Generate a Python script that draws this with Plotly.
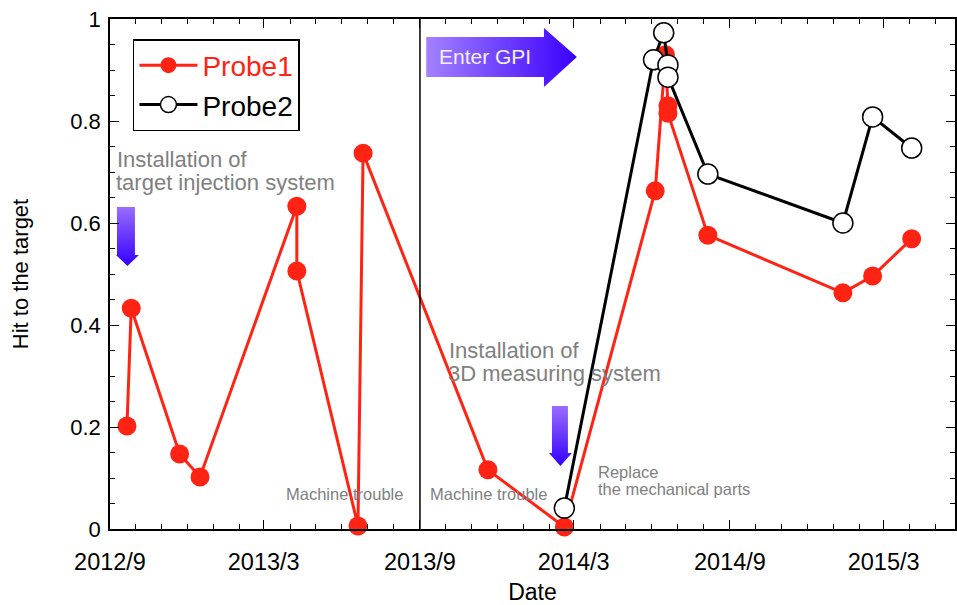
import plotly.graph_objects as go

# ---- data -------------------------------------------------------------
probe1_dates = ["2012-09-21", "2012-09-26", "2012-11-22", "2012-12-16",
                "2013-04-09", "2013-04-09", "2013-06-20", "2013-06-26",
                "2013-11-20", "2014-02-18", "2014-06-05", "2014-06-17",
                "2014-06-20", "2014-06-20", "2014-08-06", "2015-01-12",
                "2015-02-16", "2015-04-03"]
probe1_hits = [0.202, 0.433, 0.147, 0.102, 0.633, 0.506, 0.006, 0.737,
               0.116, 0.004, 0.663, 0.93, 0.83, 0.815, 0.576, 0.463,
               0.496, 0.569]

probe2_dates = ["2014-02-18", "2014-06-03", "2014-06-15", "2014-06-20",
                "2014-06-20", "2014-08-06", "2015-01-12", "2015-02-16",
                "2015-04-03"]
probe2_hits = [0.041, 0.92, 0.973, 0.91, 0.886, 0.696, 0.6, 0.808, 0.747]

x_tick_vals = ["2012-09-01", "2013-03-01", "2013-09-01", "2014-03-01",
               "2014-09-01", "2015-03-01"]
x_tick_text = ["2012/9", "2013/3", "2013/9", "2014/3", "2014/9", "2015/3"]
y_tick_vals = [0, 0.2, 0.4, 0.6, 0.8, 1]
y_tick_text = ["0", "0.2", "0.4", "0.6", "0.8", "1"]

gpi_start = "2013-09-01"

# ---- layout geometry --------------------------------------------------
W, H = 957, 605
ML, MR, MT, MB = 110, 0, 19, 76
PW, PH = W - ML - MR, H - MT - MB


def fx(px):
    return (px - ML) / PW


def fy(py):
    return (H - MB - py) / PH


FONT = "Liberation Sans, Arial, Helvetica, sans-serif"
RED = "#ff2314"
GRAY = "#808080"

fig = go.Figure()

fig.add_trace(go.Scatter(
    x=probe1_dates, y=probe1_hits, mode="lines+markers",
    name="<span style='color:%s'>Probe1</span>" % RED,
    line=dict(color=RED, width=3),
    marker=dict(color=RED, size=19, line=dict(width=0)),
    cliponaxis=False,
))
fig.add_trace(go.Scatter(
    x=probe2_dates, y=probe2_hits, mode="lines+markers",
    name="Probe2",
    line=dict(color="black", width=3),
    marker=dict(color="white", size=20, line=dict(color="black", width=1.5)),
    cliponaxis=False,
))


# gradient arrows drawn on a hidden 0..1 overlay of the plot area
def arrow(points, direction, colors):
    xs = [fx(p[0]) for p in points] + [fx(points[0][0])]
    ys = [fy(p[1]) for p in points] + [fy(points[0][1])]
    fig.add_trace(go.Scatter(
        x=xs, y=ys, xaxis="x2", yaxis="y2", mode="lines", fill="toself",
        line=dict(width=0, color="rgba(0,0,0,0)"),
        fillgradient=dict(type=direction,
                          colorscale=[[0, colors[0]], [1, colors[1]]]),
        showlegend=False, hoverinfo="skip",
    ))


arrow([(427, 37), (545, 37), (545, 28), (578, 57), (545, 87), (545, 77),
       (427, 77)], "horizontal", ("#a381ff", "#3a00ff"))
arrow([(117, 207), (135, 207), (135, 255), (139, 255), (127.5, 266),
       (116, 255), (117, 255)], "vertical", ("#3300ff", "#9a6cff"))
arrow([(553, 406), (569, 406), (569, 453), (573, 453), (561.5, 466),
       (550, 453), (553, 453)], "vertical", ("#3300ff", "#9a6cff"))


def note(text, px, py, size, color=GRAY, anchor="left"):
    fig.add_annotation(x=fx(px), y=fy(py), xref="paper", yref="paper",
                       text=text, showarrow=False, xanchor=anchor,
                       yanchor="middle",
                       font=dict(family=FONT, size=size, color=color))


note("Enter GPI", 438, 57, 21, color="#f4f0ff")
note("Installation of", 115, 159, 22)
note("target injection system", 114, 182, 22)
note("Installation of", 448, 350, 22)
note("3D measuring system", 447, 373, 22)
note("Machine trouble", 284, 494, 16.5)
note("Machine trouble", 429, 494, 16.5)
note("Replace", 597, 472, 16.5)
note("the mechanical parts", 597, 489, 16.5)

fig.add_shape(type="line", xref="x", yref="paper", x0=gpi_start, x1=gpi_start,
              y0=0, y1=1, line=dict(color="black", width=1.5))

fig.update_layout(
    width=W, height=H,
    margin=dict(l=ML, r=MR, t=MT, b=MB, pad=0),
    paper_bgcolor="white", plot_bgcolor="white",
    font=dict(family=FONT, size=22, color="black"),
    showlegend=True,
    legend=dict(x=fx(133), y=fy(39), xanchor="left", yanchor="top",
                bgcolor="white", bordercolor="black", borderwidth=1.5,
                font=dict(family=FONT, size=28, color="black"),
                itemwidth=58, tracegroupgap=0),
    xaxis=dict(
        range=["2012-09-01", "2015-05-24"], type="date",
        tickmode="array", tickvals=x_tick_vals, ticktext=x_tick_text,
        ticks="inside", ticklen=9, tickwidth=1.2, tickcolor="black",
        showline=True, linecolor="black", linewidth=1.5, mirror="ticks",
        showgrid=False, zeroline=False,
        ticklabelstandoff=11,
        minor=dict(tickmode="linear", tick0="2012-09-01", dtick="M1",
                   ticks="inside", ticklen=5, tickcolor="black",
                   showgrid=False),
        title=dict(text="Date", standoff=11,
                   font=dict(family=FONT, size=23)),
        tickfont=dict(family=FONT, size=23.5),
    ),
    yaxis=dict(
        range=[0, 1],
        tickmode="array", tickvals=y_tick_vals, ticktext=y_tick_text,
        ticks="inside", ticklen=9, tickwidth=1.2, tickcolor="black",
        showline=True, linecolor="black", linewidth=1.5, mirror="ticks",
        showgrid=False, zeroline=False,
        ticklabelstandoff=3,
        minor=dict(tickmode="linear", tick0=0, dtick=0.05, ticks="inside",
                   ticklen=5, tickcolor="black", showgrid=False),
        title=dict(text="Hit to the target", standoff=36,
                   font=dict(family=FONT, size=22)),
        tickfont=dict(family=FONT, size=22),
    ),
    xaxis2=dict(overlaying="x", range=[0, 1], visible=False, anchor="y2"),
    yaxis2=dict(overlaying="y", range=[0, 1], visible=False, anchor="x2"),
)

fig.write_html("out.html")
